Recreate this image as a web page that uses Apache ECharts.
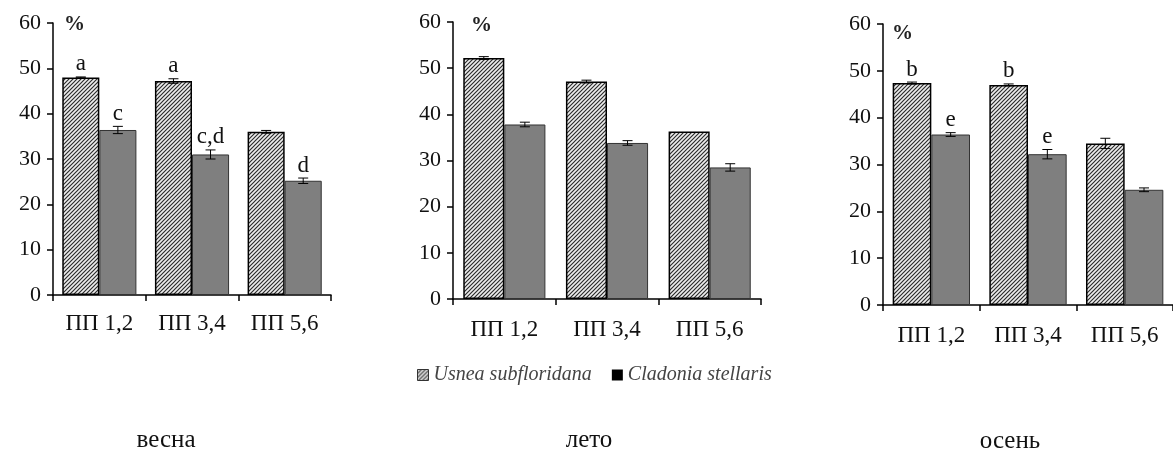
<!DOCTYPE html>
<html><head><meta charset="utf-8">
<script src="https://cdn.jsdelivr.net/npm/echarts@6/dist/echarts.min.js"></script>
<style>html,body{margin:0;padding:0;background:#fff}#c{width:1173px;height:450px}</style>
</head><body><div id="c"></div>
<script>
const categories = ['ПП 1,2', 'ПП 3,4', 'ПП 5,6'];
const seasons = ['весна', 'лето', 'осень'];
const seriesNames = ['Usnea subfloridana', 'Cladonia stellaris'];
const yUnit = '%';

const usneaSpring = [48.0, 47.2, 36.0];
const usneaSpringErr = [0.1, 0.5, 0.3];
const cladoniaSpring = [36.4, 31.0, 25.2];
const cladoniaSpringErr = [0.8, 1.0, 0.6];

const usneaSummer = [52.2, 47.1, 36.3];
const usneaSummerErr = [0.3, 0.3, 0.0];
const cladoniaSummer = [37.8, 33.8, 28.5];
const cladoniaSummerErr = [0.5, 0.5, 0.8];

const usneaAutumn = [47.4, 47.0, 34.5];
const usneaAutumnErr = [0.2, 0.2, 1.1];
const cladoniaAutumn = [36.4, 32.2, 24.6];
const cladoniaAutumnErr = [0.4, 1.0, 0.4];

const usneaSpringLetters = ['a', 'a', ''];
const cladoniaSpringLetters = ['c', 'c,d', 'd'];
const usneaSummerLetters = ['', '', ''];
const cladoniaSummerLetters = ['', '', ''];
const usneaAutumnLetters = ['b', 'b', ''];
const cladoniaAutumnLetters = ['e', 'e', ''];

const yMin = 0, yMax = 60, yInterval = 10;

// ---- styling / layout ----
const FONT = 'Liberation Serif';
function makeHatch() {
  const c = document.createElement('canvas');
  c.width = 4; c.height = 4;
  const g = c.getContext('2d');
  g.fillStyle = '#ededed'; g.fillRect(0, 0, 4, 4);
  g.strokeStyle = '#2a2a2a'; g.lineWidth = 1.15;
  g.beginPath();
  g.moveTo(-1, 5); g.lineTo(5, -1);
  g.moveTo(-1, 1); g.lineTo(1, -1);
  g.moveTo(3, 5); g.lineTo(5, 3);
  g.stroke();
  return c;
}
const hatch = { image: makeHatch(), repeat: 'repeat' };

const panels = [
  { u: usneaSpring, ue: usneaSpringErr, c: cladoniaSpring, ce: cladoniaSpringErr, ul: usneaSpringLetters, cl: cladoniaSpringLetters,
    grid: { left: 53, top: 23, width: 278, height: 272 }, labelMargin: 17, pct: [64, 14], season: [166, 440] },
  { u: usneaSummer, ue: usneaSummerErr, c: cladoniaSummer, ce: cladoniaSummerErr, ul: usneaSummerLetters, cl: cladoniaSummerLetters,
    grid: { left: 453, top: 22, width: 308, height: 277 }, labelMargin: 19, pct: [471, 15], season: [589, 440] },
  { u: usneaAutumn, ue: usneaAutumnErr, c: cladoniaAutumn, ce: cladoniaAutumnErr, ul: usneaAutumnLetters, cl: cladoniaAutumnLetters,
    grid: { left: 883, top: 24, width: 297, height: 281 }, labelMargin: 19, pct: [892, 23], season: [1010, 441] }
];

function errSeries(idx, vals, errs, letters, offset) {
  return {
    type: 'custom', xAxisIndex: idx, yAxisIndex: idx, z: 5, silent: true,
    encode: { x: 0, y: 1 },
    data: vals.map((v, i) => [i, v, errs[i]]),
    renderItem: function (params, api) {
      const cat = api.value(0), v = api.value(1), e = api.value(2);
      const base = api.coord([cat, v]);
      const w = api.size([1, 0])[0];
      const x = base[0] + offset * w * 0.2;
      const yT = api.coord([cat, v + e])[1];
      const yB = api.coord([cat, v - e])[1];
      const children = [];
      if (e > 0) {
        const st = { stroke: '#000', lineWidth: 1 };
        children.push({ type: 'line', shape: { x1: x, y1: yT, x2: x, y2: yB }, style: st });
        children.push({ type: 'line', shape: { x1: x - 5, y1: yT, x2: x + 5, y2: yT }, style: st });
        children.push({ type: 'line', shape: { x1: x - 5, y1: yB, x2: x + 5, y2: yB }, style: st });
      }
      const t = letters[params.dataIndex];
      if (t) {
        children.push({ type: 'text', x: x, y: yT - 1,
          style: { text: t, fill: '#111', font: '23px "' + FONT + '"', align: 'center', verticalAlign: 'bottom' } });
      }
      return { type: 'group', children: children };
    }
  };
}

const grids = [], xAxes = [], yAxes = [], series = [], graphics = [];
panels.forEach((p, i) => {
  grids.push(p.grid);
  xAxes.push({
    type: 'category', gridIndex: i, data: categories, boundaryGap: true,
    axisLine: { lineStyle: { color: '#000', width: 1.5 } },
    axisTick: { show: true, length: 6, inside: false, lineStyle: { color: '#000', width: 1.5 } },
    axisLabel: { fontFamily: FONT, fontSize: 23, color: '#111', margin: p.labelMargin },
    splitLine: { show: false }
  });
  yAxes.push({
    type: 'value', gridIndex: i, min: yMin, max: yMax, interval: yInterval,
    axisLine: { show: true, lineStyle: { color: '#000', width: 1.5 } },
    axisTick: { show: true, length: 6, lineStyle: { color: '#000', width: 1.5 } },
    axisLabel: { fontFamily: FONT, fontSize: 22, color: '#111', margin: 12 },
    splitLine: { show: false }
  });
  series.push({
    name: seriesNames[0], type: 'bar', xAxisIndex: i, yAxisIndex: i, data: p.u,
    barGap: '0%', barCategoryGap: '20%', silent: true,
    itemStyle: { color: hatch, borderColor: '#000', borderWidth: 1.5 }
  });
  series.push({
    name: seriesNames[1], type: 'bar', xAxisIndex: i, yAxisIndex: i, data: p.c,
    barGap: '0%', barCategoryGap: '20%', silent: true,
    itemStyle: { color: '#7f7f7f', borderColor: '#333', borderWidth: 1 }
  });
  series.push(errSeries(i, p.u, p.ue, p.ul, -1));
  series.push(errSeries(i, p.c, p.ce, p.cl, 1));
  graphics.push({ type: 'text', left: p.pct[0], top: p.pct[1],
    style: { text: yUnit, font: 'bold 21px "' + FONT + '"', fill: '#222' } });
  graphics.push({ type: 'text', x: p.season[0], y: p.season[1],
    style: { text: seasons[i], font: '25px "' + FONT + '"', fill: '#111', align: 'center', verticalAlign: 'middle' } });
});

const chart = echarts.init(document.getElementById('c'), null, { renderer: 'canvas' });
chart.setOption({
  animation: false,
  backgroundColor: '#fff',
  grid: grids, xAxis: xAxes, yAxis: yAxes, series: series, graphic: graphics,
  legend: {
    left: 412, top: 360, itemWidth: 11, itemHeight: 11, itemGap: 20, selectedMode: false, icon: 'rect',
    data: [
      { name: seriesNames[0], itemStyle: { color: hatch, borderColor: '#333', borderWidth: 1 } },
      { name: seriesNames[1], itemStyle: { color: '#000', borderWidth: 0 } }
    ],
    textStyle: { fontFamily: FONT, fontStyle: 'italic', fontSize: 20, color: '#444' }
  }
});
</script></body></html>
